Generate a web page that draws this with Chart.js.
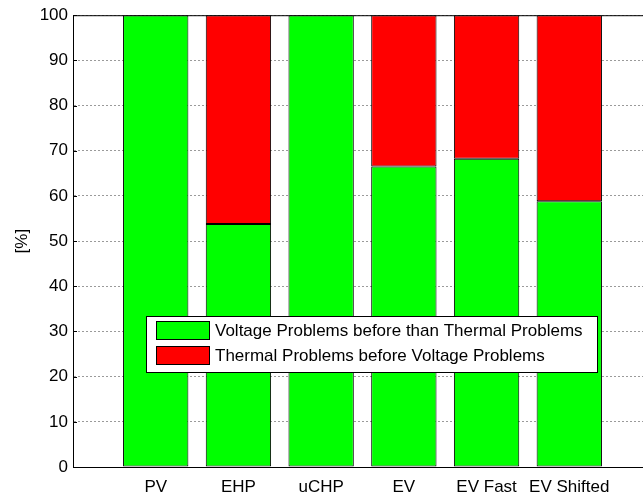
<!DOCTYPE html>
<html>
<head>
<meta charset="utf-8">
<script src="https://cdn.jsdelivr.net/npm/chart.js@4"></script>
<style>
  html, body { margin: 0; padding: 0; background: #fff; overflow: hidden; }
  #wrap { width: 660px; height: 494px; }
</style>
</head>
<body>
<div id="wrap"><canvas id="bars" width="660" height="494"></canvas></div>
<script>
// categories and values
var categories = ['PV', 'EHP', 'uCHP', 'EV', 'EV Fast', 'EV Shifted'];
var voltageFirst = [100, 53.8, 100, 66.5, 68.2, 58.8];
var thermalFirst = [0, 46.2, 0, 33.5, 31.8, 41.2];
var yTicks = [0, 10, 20, 30, 40, 50, 60, 70, 80, 90, 100];

var labelVoltage = 'Voltage Problems before than Thermal Problems';
var labelThermal = 'Thermal Problems before Voltage Problems';

var fontFamily = '"Liberation Sans", Arial, Helvetica, sans-serif';
Chart.defaults.font.family = fontFamily;
Chart.defaults.font.size = 17;
Chart.defaults.color = '#000';

function toPoints(values) {
    return values.map(function (v, i) { return { x: i + 1, y: v }; });
}

// box, inward ticks and the legend inside the plot, matlab style
var boxPlugin = {
    id: 'boxPlugin',
    afterDatasetsDraw: function (chart) {
        var ctx = chart.ctx;
        var a = chart.chartArea;
        var ys = chart.scales.y;
        ctx.save();
        ctx.strokeStyle = '#000';
        ctx.lineWidth = 1;
        ctx.strokeRect(a.left + 0.5, a.top + 0.5, a.right - a.left - 1, a.bottom - a.top);
        yTicks.forEach(function (t) {
            var py = Math.round(ys.getPixelForValue(t)) + 0.5;
            ctx.beginPath();
            ctx.moveTo(a.left, py);
            ctx.lineTo(a.left + 4, py);
            ctx.moveTo(a.right, py);
            ctx.lineTo(a.right - 4, py);
            ctx.stroke();
        });

        // legend
        var lx = 146, ly = 316, lw = 451, lh = 56;
        ctx.fillStyle = '#fff';
        ctx.fillRect(lx, ly, lw, lh);
        ctx.strokeStyle = '#000';
        ctx.strokeRect(lx + 0.5, ly + 0.5, lw, lh);
        var rows = chart.data.datasets.map(function (d) { return [d.label, d.backgroundColor]; });
        ctx.font = '17px ' + fontFamily;
        ctx.textBaseline = 'middle';
        ctx.textAlign = 'left';
        rows.forEach(function (r, i) {
            var sy = ly + 5 + i * 25;
            ctx.fillStyle = r[1];
            ctx.fillRect(156, sy, 53, 18);
            ctx.strokeStyle = '#000';
            ctx.strokeRect(156.5, sy + 0.5, 53, 18);
            ctx.fillStyle = '#000';
            ctx.fillText(r[0], 215, sy + 10);
        });
        ctx.restore();
    }
};

var ctx = document.getElementById('bars').getContext('2d');
new Chart(ctx, {
    type: 'bar',
    data: {
        datasets: [{
            label: labelVoltage,
            data: toPoints(voltageFirst),
            backgroundColor: '#00ff00',
            borderColor: '#000',
            borderWidth: 1,
            borderSkipped: false
        }, {
            label: labelThermal,
            data: toPoints(thermalFirst),
            backgroundColor: '#ff0000',
            borderColor: '#000',
            borderWidth: 1,
            borderSkipped: false
        }]
    },
    options: {
        responsive: false,
        animation: false,
        events: [],
        barPercentage: 1,
        categoryPercentage: 0.79,
        layout: { padding: { top: 13, right: 8, left: 0, bottom: 0 } },
        plugins: {
            legend: { display: false },
            tooltip: { enabled: false }
        },
        scales: {
            x: {
                type: 'linear',
                stacked: true,
                offset: false,
                bounds: 'ticks',
                min: 0,
                max: 7,
                afterFit: function (scale) { scale.height = 27; },
                afterBuildTicks: function (scale) {
                    scale.ticks = categories.map(function (c, i) { return { value: i + 1 }; });
                },
                ticks: {
                    padding: 2,
                    maxRotation: 0,
                    autoSkip: false,
                    callback: function (v) { return categories[v - 1]; }
                },
                grid: { display: false },
                border: { display: true, color: '#000' }
            },
            y: {
                stacked: true,
                min: 0,
                max: 100,
                afterFit: function (scale) { scale.width = 73; },
                afterBuildTicks: function (scale) {
                    scale.ticks = yTicks.map(function (v) { return { value: v }; });
                },
                ticks: { padding: 5 },
                title: {
                    display: true,
                    text: '[%]',
                    padding: { top: 12, bottom: 0 }
                },
                grid: {
                    color: '#9a9a9a',
                    drawTicks: false
                },
                border: { display: true, color: '#000', dash: [2, 2] }
            }
        }
    },
    plugins: [boxPlugin]
});
</script>
</body>
</html>
